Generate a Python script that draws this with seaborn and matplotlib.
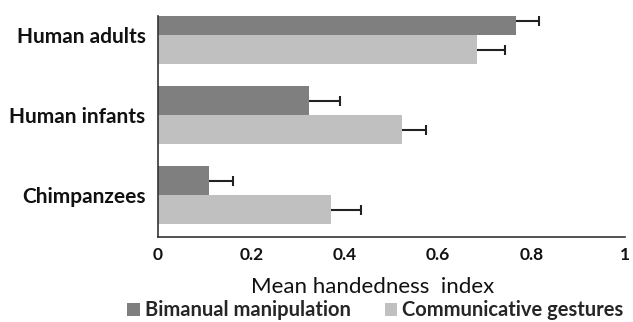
import matplotlib
matplotlib.use("Agg")
import matplotlib.pyplot as plt
import seaborn as sns
import pandas as pd
import numpy as np
from matplotlib.patches import Patch

categories = ["Human adults", "Human infants", "Chimpanzees"]
series = ["Bimanual manipulation", "Communicative gestures"]
bimanual = [0.766, 0.323, 0.110]
communicative = [0.684, 0.522, 0.371]
bimanual_err = [0.050, 0.067, 0.051]
communicative_err = [0.059, 0.053, 0.063]
xticks = [0, 0.2, 0.4, 0.6, 0.8, 1]
xtick_labels = ["0", "0.2", "0.4", "0.6", "0.8", "1"]
colors = ["#7f7f7f", "#c0c0c0"]

sns.set_style("white")
plt.rcParams["font.family"] = ["Lato", "DejaVu Sans"]

df = pd.DataFrame({
    "group": categories * 2,
    "series": [series[0]] * 3 + [series[1]] * 3,
    "value": bimanual + communicative,
})
errs = {series[0]: bimanual_err, series[1]: communicative_err}

fig = plt.figure(figsize=(6.33, 3.22), dpi=100)
ax = fig.add_axes([0.2496, 0.264, 0.7374, 0.686])
sns.barplot(data=df, x="value", y="group", hue="series", order=categories,
            hue_order=series, palette=colors, orient="h", width=0.725,
            errorbar=None, ax=ax, legend=False, linewidth=0)

for container, s in zip(ax.containers, series):
    for patch, e in zip(container.patches, errs[s]):
        yc = patch.get_y() + patch.get_height() / 2
        xv = patch.get_width()
        ax.errorbar([xv], [yc], xerr=[[0], [e]], fmt="none", ecolor="#222222",
                    elinewidth=1.5, capsize=0)
        ax.plot([xv + e], [yc], marker="|", markersize=7, markeredgewidth=1.5,
                color="#222222", linestyle="none")

ax.set_xlim(0, 1)
ax.set_ylim(2.525, -0.2375)
ax.set_xticks(xticks)
ax.set_xticklabels(xtick_labels, fontweight="bold", fontsize=12.5, color="#111111")
ax.set_yticks(range(len(categories)))
ax.set_yticklabels(categories, fontweight="bold", fontsize=15, color="#111111")
ax.set_ylabel("")
ax.set_xlabel("Mean handedness  index", fontsize=16, color="#111111", va="center")
ax.xaxis.set_label_coords(0.459, -0.226)
for side in ["top", "right"]:
    ax.spines[side].set_visible(False)
for side in ["left", "bottom"]:
    ax.spines[side].set_color("#333333")
    ax.spines[side].set_linewidth(1.2)
ax.tick_params(axis="x", direction="out", length=4, width=1.2, color="#333333", pad=3)
ax.tick_params(axis="y", length=0, pad=9)

handles = [Patch(facecolor=c, edgecolor="none") for c in colors]
leg = fig.legend(handles, series, loc="center", bbox_to_anchor=(0.593, 0.036),
                 ncol=2, frameon=False, prop={"weight": "bold", "size": 14.5},
                 handlelength=0.62, handleheight=0.62, handletextpad=0.25,
                 columnspacing=1.7, borderpad=0, borderaxespad=0)

fig.savefig("out.png", dpi=100)
